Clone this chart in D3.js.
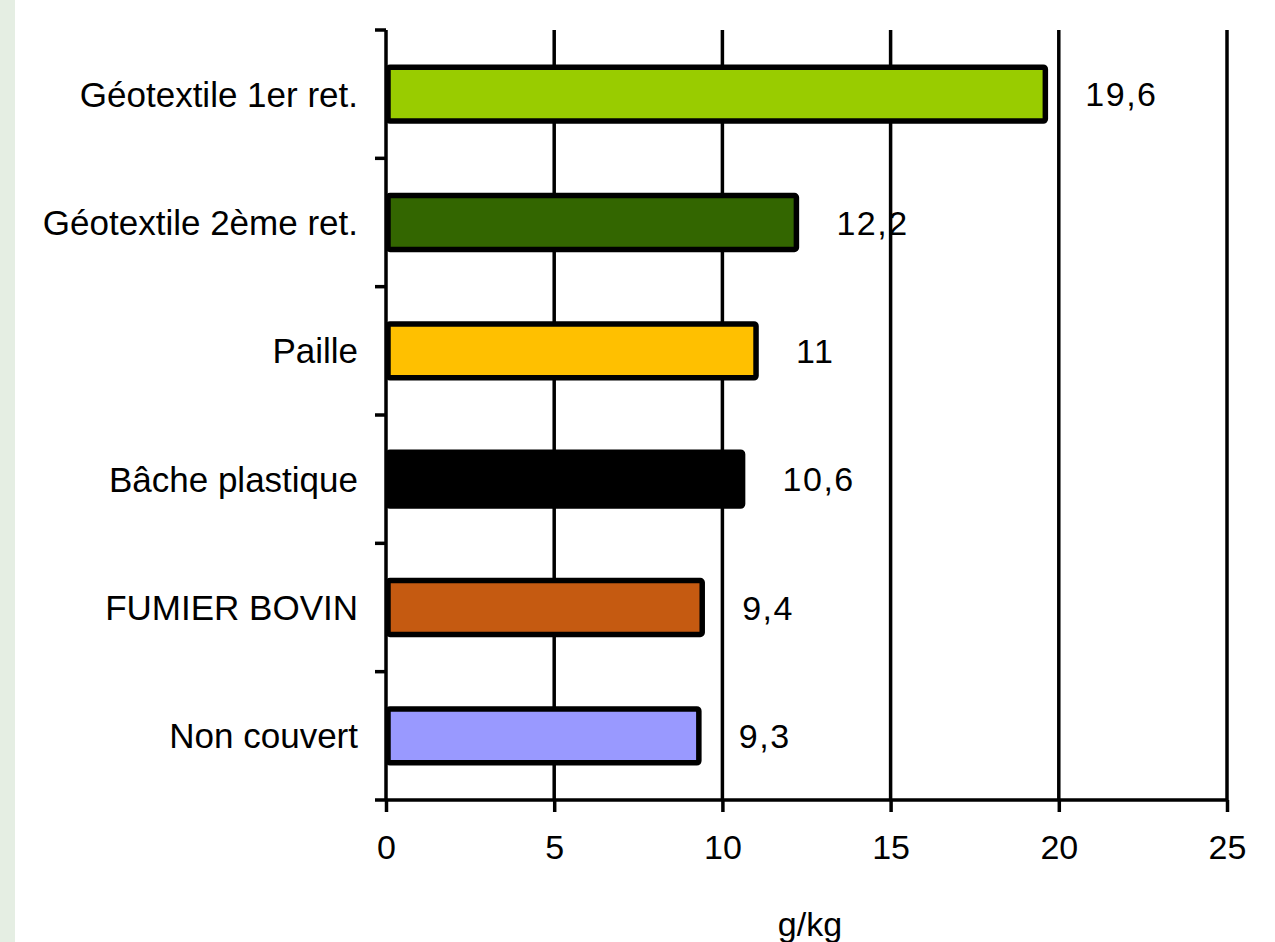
<!DOCTYPE html>
<html>
<head>
<meta charset="utf-8">
<script src="https://cdn.jsdelivr.net/npm/d3@7"></script>
<style>
  body { margin: 0; background: #fff; }
  text { font-family: "Liberation Sans", Arial, sans-serif; fill: #000; }
</style>
</head>
<body>
<script>
// chart data
var categories = ["Géotextile 1er ret.", "Géotextile 2ème ret.", "Paille", "Bâche plastique", "FUMIER BOVIN", "Non couvert"];
var values = [19.6, 12.2, 11, 10.6, 9.4, 9.3];
var labels = ["19,6", "12,2", "11", "10,6", "9,4", "9,3"];
var colors = ["#99cc00", "#336600", "#ffc000", "#000000", "#c55a11", "#9999ff"];
var xTicks = [0, 5, 10, 15, 20, 25];

var width = 1275, height = 942;
var plotLeft = 386, plotRight = 1227, plotTop = 30, plotBottom = 800;

var svg = d3.select("body").append("svg").attr("width", width).attr("height", height);

// pale green strip on the left edge
svg.append("rect").attr("x", 0).attr("y", 0).attr("width", 15).attr("height", height).attr("fill", "#e5eee3");

var x = d3.scaleLinear().domain([0, 25]).range([plotLeft, plotRight]);
var y = d3.scaleBand().domain(categories).range([plotTop, plotBottom]).paddingInner(0.58).paddingOuter(0.29);
var band = d3.scaleBand().domain(categories).range([plotTop, plotBottom]);

// vertical gridlines
svg.append("g").selectAll("line").data(xTicks.slice(1)).enter().append("line")
  .attr("x1", function(d){ return x(d); }).attr("x2", function(d){ return x(d); })
  .attr("y1", plotTop).attr("y2", plotBottom)
  .attr("stroke", "#000").attr("stroke-width", 3.5);

// x axis
var xAxis = svg.append("g").attr("transform", "translate(0," + plotBottom + ")")
  .call(d3.axisBottom(x).tickValues(xTicks).tickSize(12).tickPadding(23).tickFormat(d3.format("d")));
xAxis.select(".domain").remove();
xAxis.selectAll(".tick line").attr("stroke", "#000").attr("stroke-width", 3.5);
xAxis.selectAll(".tick text").style("font-size", "34px").attr("dy", "0.71em");
svg.append("line").attr("x1", plotLeft - 11).attr("x2", plotRight).attr("y1", plotBottom).attr("y2", plotBottom)
  .attr("stroke", "#000").attr("stroke-width", 3.5);

// y axis line and ticks at band edges
svg.append("line").attr("x1", plotLeft).attr("x2", plotLeft).attr("y1", plotTop).attr("y2", plotBottom)
  .attr("stroke", "#000").attr("stroke-width", 3.5);
var edges = categories.map(function(c){ return band(c); });
svg.append("g").selectAll("line").data(edges).enter().append("line")
  .attr("x1", plotLeft - 11).attr("x2", plotLeft).attr("y1", function(d){ return d; }).attr("y2", function(d){ return d; })
  .attr("stroke", "#000").attr("stroke-width", 3.5);

// category labels
svg.append("g").selectAll("text").data(categories).enter().append("text")
  .attr("x", 358).attr("y", function(d){ return band(d) + band.bandwidth() / 2; })
  .attr("dy", "0.36em").attr("text-anchor", "end")
  .style("font-size", "35px")
  .text(function(d){ return d; });

// bars
svg.append("g").selectAll("rect").data(values).enter().append("rect")
  .attr("x", x(0) + 2)
  .attr("y", function(d, i){ return y(categories[i]); })
  .attr("width", function(d){ return x(d) - x(0) - 2; })
  .attr("height", y.bandwidth())
  .attr("rx", 2)
  .attr("fill", function(d, i){ return colors[i]; })
  .attr("stroke", "#000").attr("stroke-width", 5.5);

// value labels
svg.append("g").selectAll("text").data(values).enter().append("text")
  .attr("x", function(d){ return x(d) + 40; })
  .attr("y", function(d, i){ return y(categories[i]) + y.bandwidth() / 2; })
  .attr("dy", "0.36em")
  .style("font-size", "34px").style("letter-spacing", "1.5px")
  .text(function(d, i){ return labels[i]; });

// axis title
svg.append("text").attr("x", 810).attr("y", 936).attr("text-anchor", "middle")
  .style("font-size", "34px").text("g/kg");
</script>
</body>
</html>
